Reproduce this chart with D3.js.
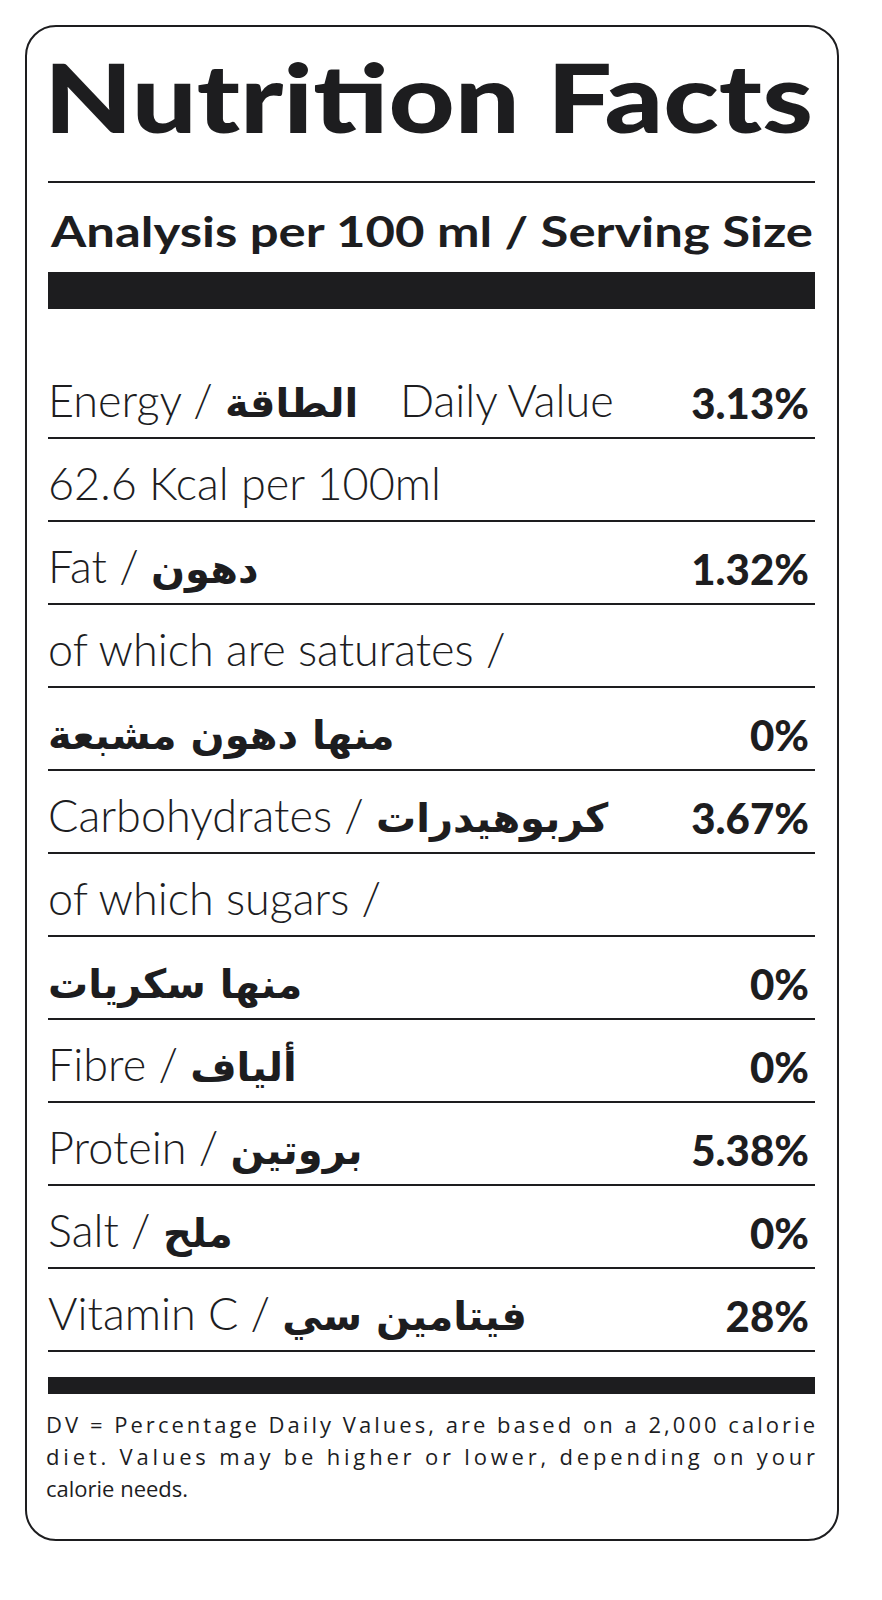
<!DOCTYPE html>
<html><head><meta charset="utf-8">
<script src="https://cdn.jsdelivr.net/npm/d3@7"></script>
<style>body{margin:0;background:#fff}</style>
</head><body>
<svg id="chart" width="882" height="1600"></svg>
<script>
// row content, top to bottom
var labels = ["Energy / ", "62.6 Kcal per 100ml", "Fat / ", "of which are saturates /", "", "Carbohydrates / ",
  "of which sugars /", "", "Fibre / ", "Protein / ", "Salt / ", "Vitamin C  / "];
var arabic = ["الطاقة", "", "دهون", "", "منها دهون مشبعة", "كربوهيدرات", "", "منها سكريات", "ألياف", "بروتين", "ملح", "فيتامين سي"];
var values = ["3.13%", "", "1.32%", "", "0%", "3.67%", "", "0%", "0%", "5.38%", "0%", "28%"];
var footLines = ["DV = Percentage Daily Values, are based on a 2,000 calorie",
  "diet. Values may be higher or lower, depending on your",
  "calorie needs."];

var svg = d3.select("#chart"), dark = "#1d1d1f";
var L = 48, R = 815;
var font = "Lato, 'Open Sans', sans-serif", arFont = "'DejaVu Sans', 'Noto Sans', sans-serif";

svg.append("rect").attr("x", 26).attr("y", 26).attr("width", 812).attr("height", 1514)
  .attr("rx", 30).attr("fill", "#fff").attr("stroke", dark).attr("stroke-width", 2);

svg.append("text").attr("x", L - 4).attr("y", 133).attr("textLength", R - L + 2)
  .attr("lengthAdjust", "spacingAndGlyphs")
  .style("font", "900 96px " + font).attr("fill", dark).text("Nutrition Facts");
svg.append("line").attr("x1", L).attr("x2", R).attr("y1", 182).attr("y2", 182).attr("stroke", dark).attr("stroke-width", 2);
svg.append("text").attr("x", L + 3).attr("y", 247).attr("textLength", R - L - 5)
  .attr("lengthAdjust", "spacingAndGlyphs")
  .style("font", "bold 42px " + font).attr("fill", dark).text("Analysis per 100 ml / Serving Size");
svg.append("rect").attr("x", L).attr("y", 272).attr("width", R - L).attr("height", 37).attr("fill", dark);

var y = d3.scaleBand().domain(d3.range(labels.length)).range([355, 355 + 83 * labels.length]);

var rows = svg.selectAll("g.row").data(labels).join("g").attr("class", "row")
  .attr("transform", function (d, i) { return "translate(0," + y(i) + ")"; });

rows.append("line").attr("x1", L).attr("x2", R).attr("y1", y.bandwidth()).attr("y2", y.bandwidth())
  .attr("stroke", dark).attr("stroke-width", 2);

var t = rows.append("text").attr("x", L).attr("y", 62).attr("fill", dark);
t.append("tspan").style("font", "300 45px " + font).text(function (d) { return d; });
t.append("tspan").style("font", "bold 40px " + arFont)
  .text(function (d, i) { return arabic[i]; });

rows.filter(function (d, i) { return i === 0; }).append("text").attr("x", 400).attr("y", 62)
  .attr("fill", dark).style("font", "300 45px " + font).text("Daily Value");

rows.append("text").attr("x", R - 6).attr("y", 64).attr("text-anchor", "end").attr("fill", dark)
  .style("font", "900 42px " + font).text(function (d, i) { return values[i]; });

svg.append("rect").attr("x", L).attr("y", 1377).attr("width", R - L).attr("height", 17).attr("fill", dark);

svg.selectAll("text.foot").data(footLines).join("text").attr("class", "foot")
  .attr("x", L - 2).attr("y", function (d, i) { return 1433 + i * 32; })
  .attr("textLength", function (d, i) { return i < 2 ? R - L + 2 : null; })
  .attr("lengthAdjust", "spacing")
  .attr("fill", dark).style("font", "22px 'Open Sans', sans-serif").text(function (d) { return d; });
</script>
</body></html>
